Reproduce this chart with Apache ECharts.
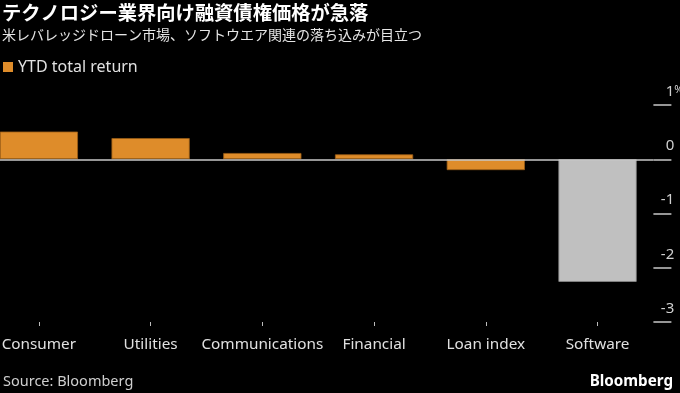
<!DOCTYPE html>
<html><head><meta charset="utf-8">
<script src="https://cdn.jsdelivr.net/npm/echarts@6/dist/echarts.min.js"></script>
<style>html,body{margin:0;padding:0;background:#000;overflow:hidden;}#c{position:absolute;left:-17px;top:0;width:697px;height:393px;}</style>
</head><body><div id="c"></div>
<script>
const categories = ['Consumer','Utilities','Communications','Financial','Loan index','Software'];
const ytdReturn = [0.51, 0.39, 0.115, 0.09, -0.2, -2.26];
const yTicks = [1, 0, -1, -2, -3];
const FONT = '"Noto Sans", "Noto Sans CJK JP", sans-serif';
const CJK = '"Noto Sans CJK JP", "Noto Sans", sans-serif';
const ORANGE = '#de8c2a', GREY = '#c0c0c0';
const OFF = 17; // div offset

const chart = echarts.init(document.getElementById('c'));
chart.setOption({
  backgroundColor: '#000',
  animation: false,
  textStyle: { fontFamily: FONT },
  title: [
    { text: 'テクノロジー業界向け融資債権価格が急落', left: OFF + 2, top: 3, padding: 0,
      textStyle: { color: '#fff', fontSize: 19.3, fontWeight: 'bold', fontFamily: CJK } },
    { text: '米レバレッジドローン市場、ソフトウエア関連の落ち込みが目立つ', left: OFF + 2, top: 28, padding: 0,
      textStyle: { color: '#e6e6e6', fontSize: 14, fontWeight: 'normal', fontFamily: CJK } },
    { text: 'Source: Bloomberg', left: OFF + 3, top: 375, padding: 0,
      textStyle: { color: '#cfcfcf', fontSize: 14.5, fontWeight: 'normal', fontFamily: FONT } },
    { text: 'Bloomberg', right: 7, top: 374, padding: 0,
      textStyle: { color: '#fff', fontSize: 15.2, fontWeight: 'bold', fontFamily: FONT } }
  ],
  legend: {
    left: OFF + 3, top: 59, padding: 0, itemWidth: 10, itemHeight: 10, itemGap: 6,
    icon: 'rect',
    data: [{ name: 'YTD total return', itemStyle: { color: ORANGE } }],
    textStyle: { color: '#e0e0e0', fontSize: 16, fontFamily: FONT }
  },
  grid: { left: 0, right: 26.6, top: 105, bottom: 71, containLabel: false, outerBoundsMode: 'none' },
  xAxis: {
    type: 'category', data: categories,
    axisLine: { show: false, onZero: false },
    axisTick: { show: true, alignWithLabel: true, length: 4, lineStyle: { color: '#bbb', width: 1 } },
    axisLabel: { color: '#e0e0e0', fontSize: 15.3, margin: 15, fontFamily: FONT, interval: 0 }
  },
  yAxis: {
    type: 'value', position: 'right', min: -3, max: 1, interval: 1,
    splitLine: { show: false },
    axisLine: { show: false },
    axisTick: { show: true, length: 18, lineStyle: { color: '#c8c8c8', width: 1.5 } },
    axisLabel: {
      margin: 30, align: 'right', verticalAlign: 'bottom',
      padding: [0, 0, 6, 0], fontFamily: FONT,
      formatter: v => v === yTicks[0] ? '{a|' + v + '}{b|%}' : '{a|' + v + '}{h|%}',
      rich: {
        a: { color: '#d0d0d0', fontSize: 15, fontFamily: FONT },
        b: { color: '#d0d0d0', fontSize: 11, fontFamily: FONT, verticalAlign: 'top', padding: [0,0,4,0] },
        h: { color: 'rgba(0,0,0,0)', fontSize: 11, fontFamily: FONT }
      }
    }
  },
  series: [{
    name: 'YTD total return', type: 'bar', barCategoryGap: '30%',
    data: ytdReturn.map((v, i) => ({
      value: v,
      itemStyle: i === categories.length - 1
        ? { color: GREY, borderColor: '#8a8a8a', borderWidth: 0.8 }
        : { color: ORANGE, borderColor: '#9a5d16', borderWidth: 0.8 }
    })),
    itemStyle: { color: ORANGE },
    markLine: {
      silent: true, symbol: 'none', label: { show: false },
      lineStyle: { color: '#c8c8c8', width: 1.5, type: 'solid' },
      data: [{ yAxis: 0 }]
    }
  }]
});
</script></body></html>
